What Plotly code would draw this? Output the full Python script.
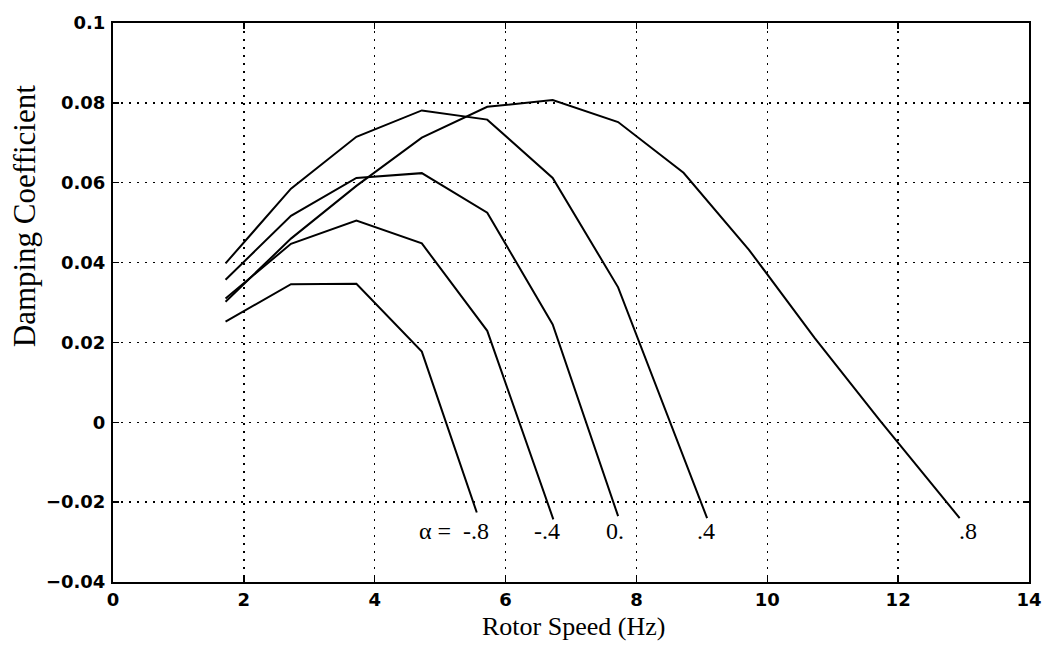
import plotly.graph_objects as go

# ---- data ----
alpha_labels = ["α = \u00a0-.8", "-.4", "0.", ".4", ".8"]
label_x = [5.77, 6.64, 7.68, 9.06, 13.07]
label_anchor = ["right", "center", "center", "center", "center"]
label_y = -0.0272

x_m08 = [1.72, 2.72, 3.72, 4.72, 5.56]
y_m08 = [0.0252, 0.0346, 0.0347, 0.0177, -0.0226]

x_m04 = [1.72, 2.72, 3.72, 4.72, 5.72, 6.73]
y_m04 = [0.0310, 0.0447, 0.0505, 0.0448, 0.0229, -0.0243]

x_0 = [1.72, 2.72, 3.72, 4.72, 5.72, 6.72, 7.72]
y_0 = [0.0357, 0.0517, 0.0612, 0.0624, 0.0525, 0.0245, -0.0235]

x_p04 = [1.72, 2.72, 3.72, 4.72, 5.72, 6.72, 7.72, 9.08]
y_p04 = [0.0398, 0.0585, 0.0715, 0.0781, 0.0758, 0.0612, 0.0338, -0.0240]

x_p08 = [1.72, 2.72, 3.72, 4.72, 5.72, 6.72, 7.72, 8.72, 9.72, 10.72, 11.72, 12.94]
y_p08 = [0.0302, 0.0460, 0.0592, 0.0713, 0.0790, 0.0807, 0.0752, 0.0625, 0.0432, 0.0212, 0.0005, -0.0240]

x_ticks = [0, 2, 4, 6, 8, 10, 12, 14]
x_ticktext = ["0", "2", "4", "6", "8", "10", "12", "14"]
y_ticks = [-0.04, -0.02, 0, 0.02, 0.04, 0.06, 0.08, 0.1]
y_ticktext = ["\u22120.04", "\u22120.02", "0", "0.02", "0.04", "0.06", "0.08", "0.1"]

x_title = "Rotor Speed (Hz)"
y_title = "Damping Coefficient"

series = [(x_m08, y_m08), (x_m04, y_m04), (x_0, y_0), (x_p04, y_p04), (x_p08, y_p08)]

SERIF = "Liberation Serif, Times New Roman, serif"

fig = go.Figure()
for xs, ys in series:
    fig.add_trace(go.Scatter(x=xs, y=ys, mode="lines",
                             line=dict(color="black", width=2),
                             showlegend=False, hoverinfo="skip"))

for txt, lx, anc in zip(alpha_labels, label_x, label_anchor):
    fig.add_annotation(x=lx, y=label_y, xref="x", yref="y", text=txt,
                       showarrow=False, xanchor=anc, yanchor="middle",
                       font=dict(family=SERIF, size=24, color="black"))

# axis titles placed as annotations (pixel positions converted below)
fig.add_annotation(x=577, y=627, xref="paper", yref="paper", text=x_title,
                   showarrow=False, xanchor="center", yanchor="middle",
                   font=dict(family=SERIF, size=26, color="black"))
fig.add_annotation(x=24, y=212, xref="paper", yref="paper", text=y_title,
                   textangle=-90, showarrow=False, xanchor="center", yanchor="middle",
                   font=dict(family=SERIF, size=31, color="black"))

tickfont = dict(family="DejaVu Sans, Arial, sans-serif", size=18, color="black", weight="bold")

axis_common = dict(
    showline=True, mirror="ticks", linecolor="black", linewidth=2,
    ticks="inside", ticklen=6, tickwidth=1.5, tickcolor="black",
    showgrid=True, gridcolor="black", gridwidth=1.3, griddash="2px,6px",
    zeroline=False, tickfont=tickfont,
)

fig.update_xaxes(range=[0, 14], tickvals=x_ticks, ticktext=x_ticktext,
                 ticklabelstandoff=0, **axis_common)
fig.update_yaxes(range=[-0.04, 0.1], tickvals=y_ticks, ticktext=y_ticktext,
                 ticklabelstandoff=2, **axis_common)

L, R, T, B, W, H = 113, 18, 16, 63, 1054, 645
fig.update_layout(
    width=W, height=H,
    margin=dict(l=L, r=R, t=T, b=B),
    paper_bgcolor="white", plot_bgcolor="white",
)

pw, ph = W - L - R, H - T - B
for ann in fig.layout.annotations:
    if ann.xref == "paper":
        ann.x = (ann.x - L) / pw
        ann.y = 1 - (ann.y - T) / ph

fig.write_html("out.html",
               config={"displayModeBar": False, "staticPlot": True},
               post_script="document.body.style.margin='0';document.body.style.overflow='hidden';")
